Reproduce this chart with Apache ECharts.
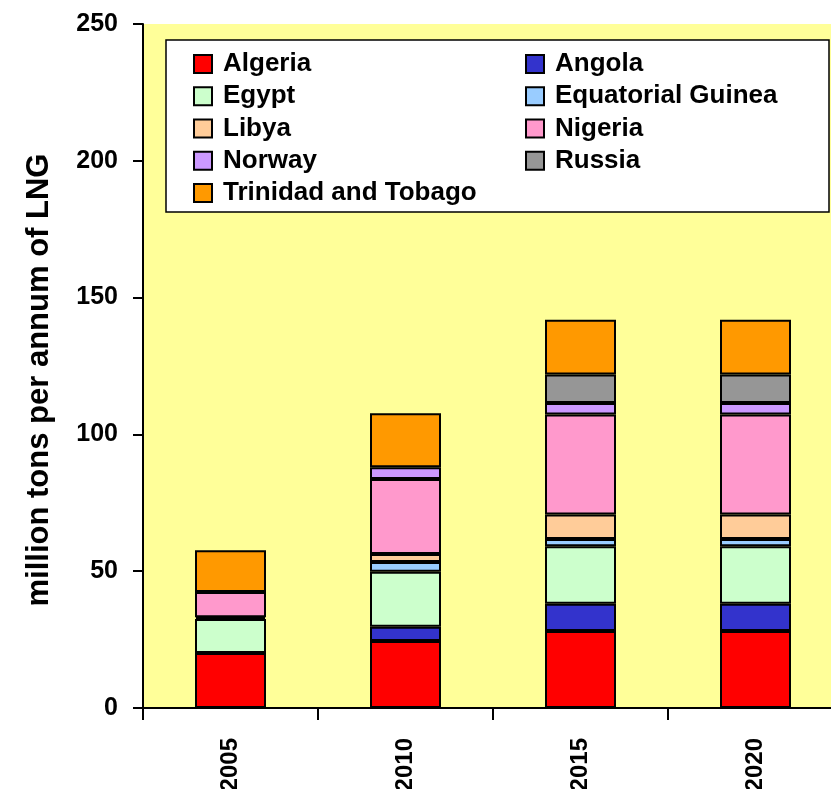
<!DOCTYPE html>
<html>
<head>
<meta charset="utf-8">
<script src="https://cdn.jsdelivr.net/npm/echarts@6/dist/echarts.min.js"></script>
<style>
  html, body { margin: 0; padding: 0; background: #ffffff; }
  #chart { width: 831px; height: 789px; }
</style>
</head>
<body>
<div id="chart"></div>
<script>
// Years on the category axis
const years = ['2005', '2010', '2015', '2020'];

// LNG export capacity by country, million tons per annum
const algeria   = [20.1, 24.5, 28.1, 28.1];
const angola    = [0, 5.2, 10.0, 10.0];
const egypt     = [12.4, 20.1, 21.0, 21.0];
const eqGuinea  = [0, 3.6, 2.7, 2.7];
const libya     = [0.7, 2.9, 8.9, 8.9];
const nigeria   = [9.2, 27.4, 36.6, 36.6];
const norway    = [0, 4.3, 4.2, 4.2];
const russia    = [0, 0, 10.4, 10.4];
const trinidad  = [15.3, 19.7, 20.0, 20.0];

// Value axis ticks
const yTicks = { min: 0, max: 250, step: 50 };

const seriesDefs = [
  { name: 'Algeria', data: algeria, color: '#FF0000' },
  { name: 'Angola', data: angola, color: '#3333CC' },
  { name: 'Egypt', data: egypt, color: '#CCFFCC' },
  { name: 'Equatorial Guinea', data: eqGuinea, color: '#99CCFF' },
  { name: 'Libya', data: libya, color: '#FFCC99' },
  { name: 'Nigeria', data: nigeria, color: '#FF99CC' },
  { name: 'Norway', data: norway, color: '#CC99FF' },
  { name: 'Russia', data: russia, color: '#969696' },
  { name: 'Trinidad and Tobago', data: trinidad, color: '#FF9900' }
];

const FONT = '"Liberation Sans", Arial, sans-serif';

const legendCommon = {
  orient: 'vertical',
  top: 46,
  itemWidth: 18,
  itemHeight: 18,
  itemGap: 6.25,
  icon: 'rect',
  z: 10,
  textStyle: {
    fontFamily: FONT,
    fontWeight: 'bold',
    fontSize: 26,
    color: '#000',
    padding: [0, 0, 0, 6]
  }
};

const chart = echarts.init(document.getElementById('chart'), null, { renderer: 'canvas' });

chart.setOption({
  backgroundColor: '#ffffff',
  animation: false,
  grid: {
    left: 143,
    top: 24,
    width: 700,
    height: 684,
    outerBoundsMode: 'none',
    containLabel: false,
    show: true,
    backgroundColor: '#FFFF99',
    borderWidth: 0
  },
  graphic: [{
    type: 'rect',
    z: 5,
    shape: { x: 166, y: 40, width: 663, height: 172 },
    style: { fill: '#ffffff', stroke: '#000000', lineWidth: 1.5 }
  }],
  legend: [
    Object.assign({}, legendCommon, {
      left: 188,
      data: ['Algeria', 'Egypt', 'Libya', 'Norway', 'Trinidad and Tobago']
    }),
    Object.assign({}, legendCommon, {
      left: 520,
      data: ['Angola', 'Equatorial Guinea', 'Nigeria', 'Russia']
    })
  ],
  xAxis: {
    type: 'category',
    data: years,
    axisLine: { lineStyle: { color: '#000', width: 2 } },
    axisTick: { show: true, length: 12, lineStyle: { color: '#000', width: 2 } },
    axisLabel: {
      rotate: 90,
      margin: 30,
      fontFamily: FONT,
      fontWeight: 'bold',
      fontSize: 24,
      color: '#000'
    },
    splitLine: { show: false }
  },
  yAxis: {
    type: 'value',
    min: yTicks.min,
    max: yTicks.max,
    interval: yTicks.step,
    name: 'million tons per annum of LNG',
    nameLocation: 'middle',
    nameRotate: 90,
    nameGap: 88,
    nameTextStyle: {
      fontFamily: FONT,
      fontWeight: 'bold',
      fontSize: 31,
      color: '#000',
      padding: [0, 28, 0, 0]
    },
    axisLine: { show: true, lineStyle: { color: '#000', width: 2 } },
    axisTick: { show: true, length: 10, lineStyle: { color: '#000', width: 2 } },
    axisLabel: {
      margin: 25,
      fontFamily: FONT,
      fontWeight: 'bold',
      fontSize: 25,
      color: '#000'
    },
    splitLine: { show: false }
  },
  // Countries with no capacity in a year get no segment (avoids zero-height outlines)
  series: seriesDefs.map(s => ({
    name: s.name,
    type: 'bar',
    stack: 'total',
    barWidth: 71,
    data: s.data.map(v => (v === 0 ? '-' : v)),
    itemStyle: { color: s.color, borderColor: '#000', borderWidth: 2 }
  }))
});
</script>
</body>
</html>
